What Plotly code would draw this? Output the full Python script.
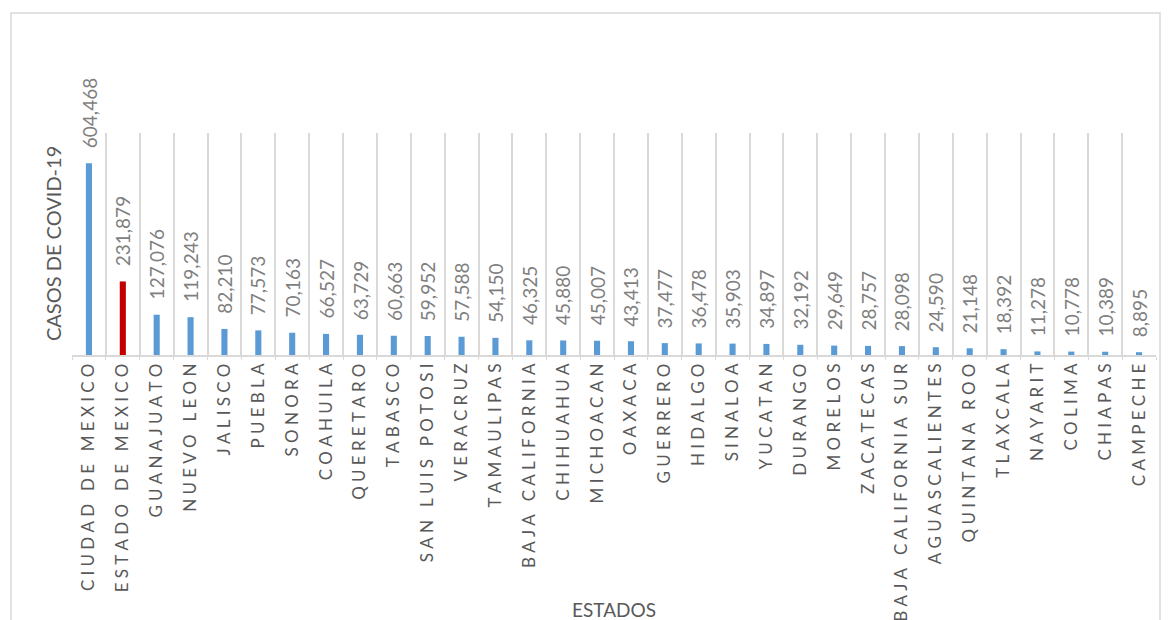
import plotly.graph_objects as go

# Confirmed COVID-19 cases by state
estados = [
    "CIUDAD DE MEXICO", "ESTADO DE MEXICO", "GUANAJUATO", "NUEVO LEON", "JALISCO",
    "PUEBLA", "SONORA", "COAHUILA", "QUERETARO", "TABASCO", "SAN LUIS POTOSI",
    "VERACRUZ", "TAMAULIPAS", "BAJA CALIFORNIA", "CHIHUAHUA", "MICHOACAN", "OAXACA",
    "GUERRERO", "HIDALGO", "SINALOA", "YUCATAN", "DURANGO", "MORELOS", "ZACATECAS",
    "BAJA CALIFORNIA SUR", "AGUASCALIENTES", "QUINTANA ROO", "TLAXCALA", "NAYARIT",
    "COLIMA", "CHIAPAS", "CAMPECHE",
]
casos = [
    604468, 231879, 127076, 119243, 82210, 77573, 70163, 66527, 63729, 60663, 59952,
    57588, 54150, 46325, 45880, 45007, 43413, 37477, 36478, 35903, 34897, 32192,
    29649, 28757, 28098, 24590, 21148, 18392, 11278, 10778, 10389, 8895,
]
destacado = "ESTADO DE MEXICO"

AZUL = "#5b9bd5"
ROJO = "#c00000"
GRIS_TEXTO = "#595959"
GRIS_ETIQUETA = "#7f7f7f"
GRIS_LINEA = "#d9d9d9"
FUENTE = "Lato"

# widen the category labels with thin + hair spaces between letters
SEP = "\u2009\u200a\u200a"
etiquetas = [SEP.join(list(e)) for e in estados]

colores = [ROJO if e == destacado else AZUL for e in estados]

fig = go.Figure(
    go.Bar(
        x=etiquetas,
        y=casos,
        marker=dict(color=colores, line=dict(width=0)),
        width=0.18,
        hoverinfo="x+y",
    )
)

# value labels above each bar
for lab, v in zip(etiquetas, casos):
    fig.add_annotation(
        x=lab, y=v, xref="x", yref="y",
        text=f"{v:,}", textangle=-90, showarrow=False,
        xanchor="center", yanchor="bottom", yshift=13,
        font=dict(family=FUENTE, size=19, color=GRIS_ETIQUETA),
    )

# axis titles
fig.add_annotation(
    x=-0.0175, y=0.5, xref="paper", yref="paper",
    text="CASOS DE COVID-19", textangle=-90, showarrow=False,
    xanchor="center", yanchor="middle",
    font=dict(family=FUENTE, size=20, color=GRIS_TEXTO),
)
fig.add_annotation(
    x=0.5, y=-1.1486, xref="paper", yref="paper",
    text="ESTADOS", showarrow=False,
    xanchor="center", yanchor="middle",
    font=dict(family=FUENTE, size=19, color=GRIS_TEXTO),
)

# outer chart frame
fig.add_shape(
    type="rect", xref="paper", yref="paper",
    x0=-0.0563, x1=1.0037, y0=-1.3, y1=1.5405,
    line=dict(color=GRIS_LINEA, width=1.5), fillcolor="rgba(0,0,0,0)",
    layer="below",
)

fig.update_layout(
    width=1174, height=620,
    margin=dict(l=72, r=18, t=133, b=265, autoexpand=False),
    paper_bgcolor="white", plot_bgcolor="white",
    showlegend=False,
    font=dict(family=FUENTE, color=GRIS_TEXTO),
)
fig.update_xaxes(
    type="category",
    automargin=False,
    tickson="boundaries",
    showgrid=True, gridcolor=GRIS_LINEA, gridwidth=1.5,
    showline=True, linecolor=GRIS_LINEA, linewidth=1.5,
    ticks="outside", ticklen=3, tickcolor=GRIS_LINEA,
    tickangle=-90,
    tickfont=dict(family=FUENTE, size=17, color=GRIS_TEXTO),
    range=[-0.5, len(estados) - 0.5],
)
fig.update_yaxes(
    range=[0, 700000],
    automargin=False,
    showgrid=False, showticklabels=False, zeroline=False, showline=False,
)

fig.write_html("out.html")
